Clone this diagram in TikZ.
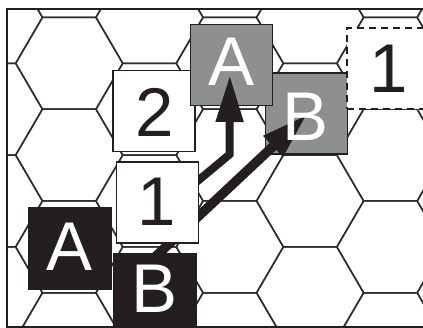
\documentclass[tikz,border=0pt]{standalone}
\usepackage{fontspec}
\setmainfont{Liberation Sans}
\usetikzlibrary{arrows.meta}
\definecolor{ink}{HTML}{231F20}
\definecolor{tokgray}{HTML}{8E8F91}
\definecolor{hexline}{HTML}{2E2E2E}
\tikzset{
  tokbox/.style={rectangle, draw=ink, line width=1.9pt, minimum width=82pt, minimum height=81pt, inner sep=0pt},
  whitebox/.style={tokbox, fill=white},
  graybox/.style={tokbox, fill=tokgray},
  blackbox/.style={tokbox, fill=ink},
  dashbox/.style={tokbox, fill=white, dash pattern=on 7pt off 5pt, line width=2.1pt},
  toktext/.style={inner sep=0pt, font=\fontsize{69}{69}\selectfont},
  hexedge/.style={draw=hexline, line width=1.5pt, line join=round},
  movearrow/.style={draw=ink, line join=miter, -{Triangle[length=47pt, width=26pt]}}
}
\begin{document}
\begin{tikzpicture}[x=1pt, y=-1pt]
\useasboundingbox (0,0) rectangle (423,328);
% hex grid
\begin{scope}
  \clip (7,9) rectangle (423,327);
  \foreach \k in {-1,...,5} {
    \foreach \j in {-1,...,4} {
      \pgfmathsetmacro{\cx}{69.2+80.3*\k}
      \pgfmathsetmacro{\cy}{63.3+45.9*mod(\k+2,2)+91.8*\j}
      \draw[hexedge] (\cx+53.5,\cy) -- (\cx+26.75,\cy-45.9) -- (\cx-26.75,\cy-45.9)
        -- (\cx-53.5,\cy) -- (\cx-26.75,\cy+45.9) -- (\cx+26.75,\cy+45.9) -- cycle;
    }
  }
\end{scope}
% frame
\coordinate (fr1) at (423,9);
\coordinate (fr2) at (7,9);
\coordinate (fr3) at (7,327);
\coordinate (fr4) at (423,327);
\draw[draw=ink, line width=1.6pt] (fr1) -- (fr2) -- (fr3) -- (fr4);
% boxes
\node[whitebox] (two) at (154.2,111) {};
\node[graybox] (gB) at (306.5,113.5) {};
\node[graybox] (gA) at (231.5,65) {};
\node[dashbox] (dash) at (387.7,68.3) {};
% arrows
\coordinate (a1s) at (185,191.5);
\coordinate (a1b) at (229.5,154.5);
\coordinate (a1t) at (229.8,75);
\draw[movearrow, line width=8pt] (a1s) -- (a1b) -- (a1t);
\coordinate (a2s) at (148,263.6);
\coordinate (a2t) at (307.3,114.3);
\draw[movearrow, line width=9.5pt] (a2s) -- (a2t);
\node[whitebox] (one) at (157.5,202.3) {};
\node[blackbox] (bA) at (70,248.2) {};
\node[blackbox] (bB) at (155,294.2) {};
% texts
\node[toktext, text=white] (tgA) at (231.5,61.5) {A};
\node[toktext, text=white] (tgB) at (306,116.8) {B};
\node[toktext, text=ink] (ttwo) at (155,112) {2};
\node[toktext, text=ink] (tone) at (157,201.3) {1};
\node[toktext, text=ink] (tdash) at (389,69) {1};
\node[toktext, text=white] (tbA) at (69.5,246.7) {A};
\node[toktext, text=white] (tbB) at (155,289.2) {B};
\end{tikzpicture}
\end{document}
